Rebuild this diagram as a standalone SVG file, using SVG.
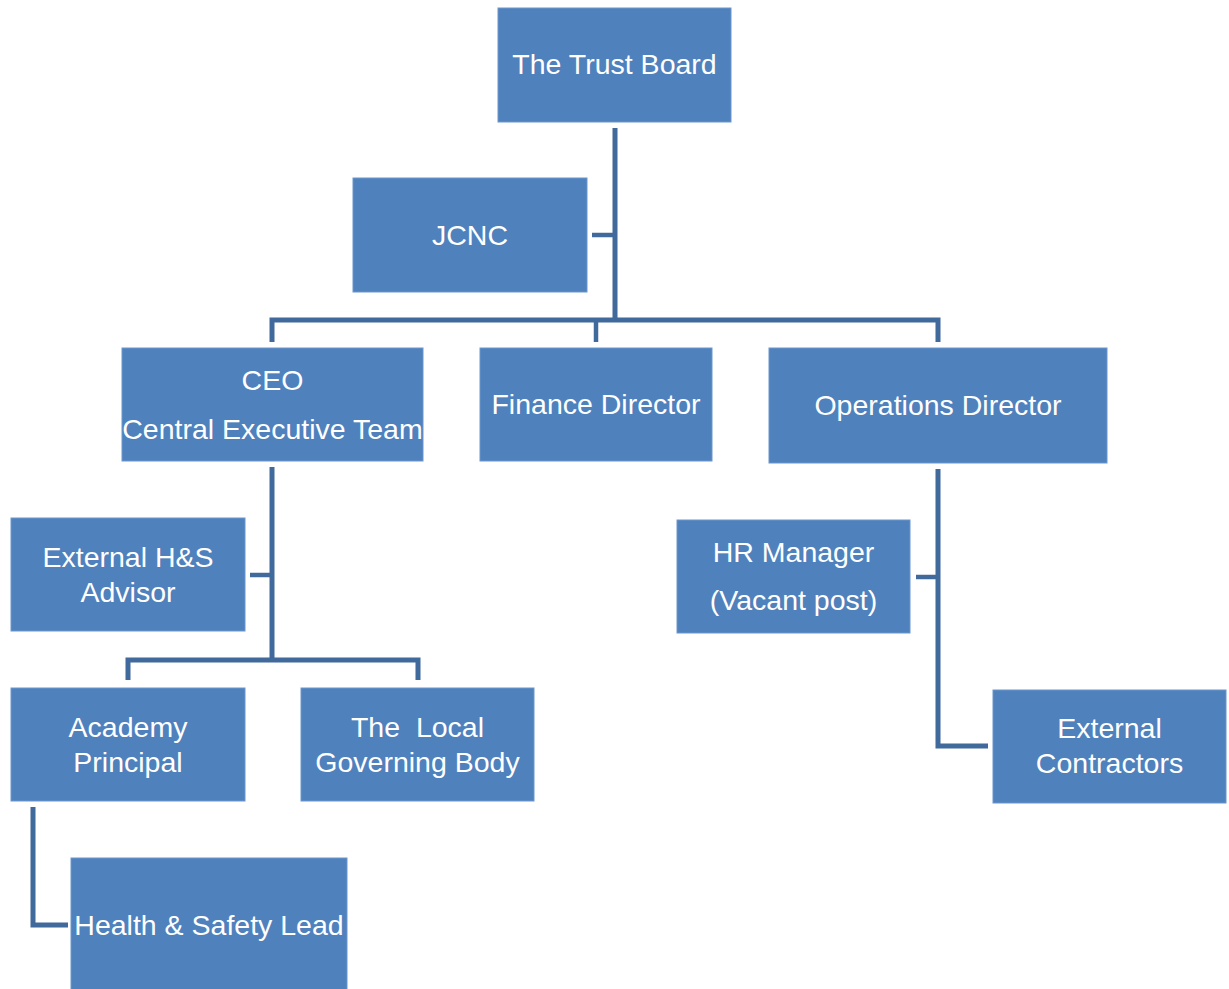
<svg xmlns="http://www.w3.org/2000/svg" width="1229" height="989" viewBox="0 0 1229 989">
<style>
.box{fill:#4F81BD;stroke:#6D97CC;stroke-width:1}
.t{font-family:"Liberation Sans",Arial,sans-serif;font-size:28.5px;fill:#FFFFFF;text-anchor:middle}
.c{fill:none;stroke:#40699C;stroke-width:5;stroke-linejoin:miter}
.s{fill:none;stroke:#40699C;stroke-width:4.5}
</style>
<rect width="1229" height="989" fill="#FFFFFF"/>
<g id="connectors">
<path class="c" d="M615,128 V320"/>
<path class="s" d="M592,235 H615"/>
<path class="c" d="M272,342 V320 H938 V342"/>
<path class="s" d="M596,320 V342"/>
<path class="c" d="M272,467 V660"/>
<path class="s" d="M250,575 H272"/>
<path class="c" d="M128,680 V660 H418 V680"/>
<path class="c" d="M33,807 V925 H68"/>
<path class="c" d="M938,469 V746 H988"/>
<path class="s" d="M916,577 H938"/>
</g>
<g id="trust-board">
<rect class="box" x="498" y="8" width="233" height="114"/>
<text class="t" x="614.5" y="74">The Trust Board</text>
</g>
<g id="jcnc">
<rect class="box" x="353" y="178" width="234" height="114"/>
<text class="t" x="470" y="245">JCNC</text>
</g>
<g id="ceo">
<rect class="box" x="122" y="348" width="301" height="113"/>
<text class="t" x="272.5" y="390">CEO</text>
<text class="t" x="272.5" y="439">Central Executive Team</text>
</g>
<g id="finance-director">
<rect class="box" x="480" y="348" width="232" height="113"/>
<text class="t" x="596" y="414">Finance Director</text>
</g>
<g id="operations-director">
<rect class="box" x="769" y="348" width="338" height="115"/>
<text class="t" x="938" y="415">Operations Director</text>
</g>
<g id="external-hs-advisor">
<rect class="box" x="11" y="518" width="234" height="113"/>
<text class="t" x="128" y="567">External H&amp;S</text>
<text class="t" x="128" y="602">Advisor</text>
</g>
<g id="hr-manager">
<rect class="box" x="677" y="520" width="233" height="113"/>
<text class="t" x="793.5" y="562">HR Manager</text>
<text class="t" x="793.5" y="610">(Vacant post)</text>
</g>
<g id="academy-principal">
<rect class="box" x="11" y="688" width="234" height="113"/>
<text class="t" x="128" y="737">Academy</text>
<text class="t" x="128" y="772">Principal</text>
</g>
<g id="local-governing-body">
<rect class="box" x="301" y="688" width="233" height="113"/>
<text class="t" x="417.5" y="737" xml:space="preserve">The  Local</text>
<text class="t" x="417.5" y="772">Governing Body</text>
</g>
<g id="external-contractors">
<rect class="box" x="993" y="690" width="233" height="113"/>
<text class="t" x="1109.5" y="738">External</text>
<text class="t" x="1109.5" y="773">Contractors</text>
</g>
<g id="health-safety-lead">
<rect class="box" x="71" y="858" width="276" height="135"/>
<text class="t" x="209" y="935">Health &amp; Safety Lead</text>
</g>
</svg>
